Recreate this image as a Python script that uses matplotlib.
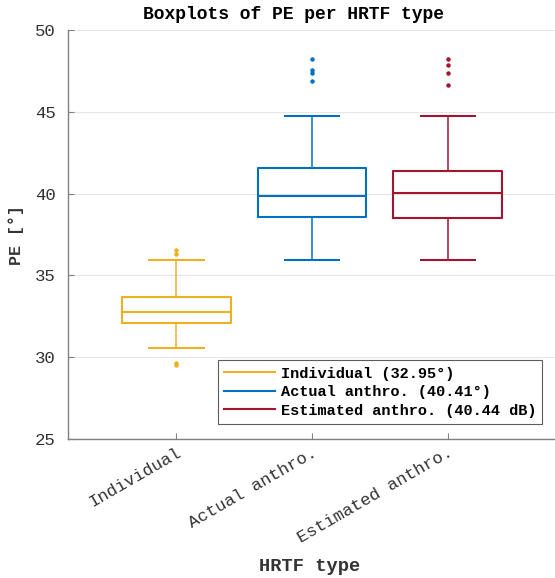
import matplotlib
matplotlib.use("Agg")
import matplotlib.pyplot as plt
from matplotlib.lines import Line2D

plt.rcParams["font.family"] = ["Liberation Mono", "DejaVu Sans Mono"]

# ── data ─────────────────────────────────────────────────────────────────────
categories = ["Individual", "Actual anthro.", "Estimated anthro."]
legend_labels = ["Individual (32.95°)", "Actual anthro. (40.41°)", "Estimated anthro. (40.44 dB)"]
colors = ["#EDB120", "#0072BD", "#A2142F"]

q1 = [32.10, 38.56, 38.52]
median = [32.78, 39.83, 40.01]
q3 = [33.70, 41.54, 41.38]
whis_lo = [30.58, 35.95, 35.95]
whis_hi = [35.97, 44.73, 44.73]
fliers = [
    [36.58, 36.33, 29.62, 29.55],
    [48.22, 47.57, 47.37, 46.87],
    [48.22, 47.86, 47.37, 46.63],
]

stats = []
for i, name in enumerate(categories):
    stats.append(dict(label=name, med=median[i], q1=q1[i], q3=q3[i],
                      whislo=whis_lo[i], whishi=whis_hi[i], fliers=fliers[i]))

fig = plt.figure(figsize=(5.55, 5.78), dpi=100)
ax = fig.add_axes([0.1225, 0.2405, 0.8795, 0.7075])

ax.grid(True, axis="y", color="#e6e6e6", linewidth=0.8)
ax.set_axisbelow(True)

for i, s in enumerate(stats):
    c = colors[i]
    ax.bxp([s], positions=[i + 1], widths=0.8, showfliers=True,
           boxprops=dict(color=c, linewidth=1.5),
           medianprops=dict(color=c, linewidth=1.5),
           whiskerprops=dict(color=c, linewidth=1.1),
           capprops=dict(color=c, linewidth=1.5),
           capwidths=0.4,
           flierprops=dict(marker="o", markersize=2.2, markerfacecolor=c,
                           markeredgecolor=c, linestyle="none"))

ax.set_xlim(0.2, 3.8)
ax.set_ylim(25, 50)
ax.set_yticks([25, 30, 35, 40, 45, 50])
ax.set_xticks([1, 2, 3])
ax.set_xticklabels(categories, rotation=30, ha="right", rotation_mode="anchor",
                   fontsize=12.5, color="#333333")
ax.tick_params(axis="y", labelsize=12.5, labelcolor="#333333", pad=9)
ax.tick_params(axis="x", pad=4)
ax.tick_params(direction="in", length=4, color="#808080")

for side in ("top", "right"):
    ax.spines[side].set_visible(False)
for side in ("left", "bottom"):
    ax.spines[side].set_color("#808080")
    ax.spines[side].set_linewidth(1.0)

ax.set_title("Boxplots of PE per HRTF type", fontsize=13, fontweight="bold",
             x=0.463, pad=8)
ax.set_xlabel("HRTF type", fontsize=13.5, fontweight="bold", color="#333333",
              va="center")
ax.xaxis.set_label_coords(0.495, -0.311)
ax.set_ylabel("PE [°]", fontsize=12, fontweight="bold", color="#333333", labelpad=8)

handles = [Line2D([], [], color=c, linewidth=1.5) for c in colors]
leg = ax.legend(handles, legend_labels, loc="lower right",
                prop=dict(weight="bold", size=11), frameon=True, fancybox=False,
                edgecolor="#333333", borderpad=0.4, labelspacing=0.3,
                handlelength=3.3, handletextpad=0.4, borderaxespad=0,
                bbox_to_anchor=(0.972, 0.037))
leg.get_frame().set_linewidth(0.8)

fig.savefig("out.png", dpi=100)
